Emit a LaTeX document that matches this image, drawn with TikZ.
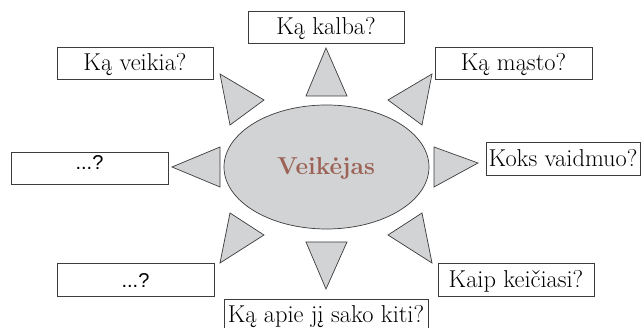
\documentclass[tikz,border=0pt]{standalone}
\usepackage{fontspec}
\newfontfamily\dotsfont{Liberation Sans}
\definecolor{shapegrey}{RGB}{210,211,213}
\definecolor{edgegrey}{RGB}{60,60,60}
\definecolor{titlebrown}{RGB}{155,98,85}
\begin{document}
\begin{tikzpicture}[x=1pt,y=-1pt,
  qbox/.style={draw=edgegrey, line width=0.9pt, rectangle, inner sep=0pt,
    minimum width=156pt, minimum height=32pt, text height=24pt, text depth=8pt,
    font=\fontsize{24.4}{28}\selectfont},
  dotbox/.style={qbox, font=\dotsfont\fontsize{20}{24}\selectfont},
  ray/.style={draw=edgegrey, fill=shapegrey, line width=0.7pt, line join=miter}]
\useasboundingbox (0,0) rectangle (641,328);

% central ellipse
\fill[shapegrey, draw=edgegrey, line width=0.7pt] (326.5,167) ellipse [x radius=102.5, y radius=62];
\node[font=\fontsize{24.5}{29}\selectfont\bfseries, text=titlebrown, anchor=base] (hero) at (326,175) {Veikėjas};

% rays around the ellipse
\draw[ray] (326,48) -- (306,96) -- (347,96) -- cycle;
\draw[ray] (220,74) -- (264,100) -- (230,125) -- cycle;
\draw[ray] (432,74) -- (388,100) -- (422,125) -- cycle;
\draw[ray] (172,167) -- (220,147) -- (220,187) -- cycle;
\draw[ray] (478,163) -- (434,147) -- (434,187) -- cycle;
\draw[ray] (230,213) -- (264,235) -- (220,263) -- cycle;
\draw[ray] (422,213) -- (388,235) -- (432,263) -- cycle;
\draw[ray] (306,242) -- (347,242) -- (326,289) -- cycle;

% question boxes
\node[qbox] (kalba) at (326,27) {Ką kalba?};
\node[qbox] (veikia) at (135,63) {Ką veikia?};
\node[qbox, minimum width=157pt] (masto) at (513.5,63) {Ką mąsto?};
\node[dotbox, minimum width=157pt, text height=18pt, text depth=14pt] (left) at (89.5,168) {...?};
\node[qbox, minimum width=154pt, minimum height=33pt, text height=25pt] (role) at (563,158.5) {Koks vaidmuo?};
\node[dotbox, minimum width=157pt, minimum height=33pt, text height=25pt] (lower) at (135.5,279.5) {...?};
\node[qbox, minimum height=33pt, text height=25pt] (change) at (516,279.5) {Kaip keičiasi?};
\node[qbox, minimum width=204pt] (others) at (326,315) {Ką apie jį sako kiti?};
\end{tikzpicture}
\end{document}
